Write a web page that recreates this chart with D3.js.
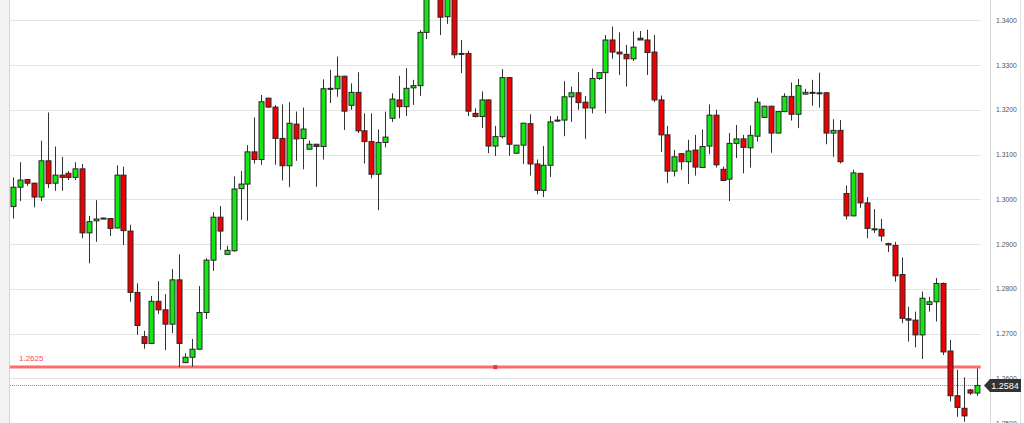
<!DOCTYPE html>
<html><head><meta charset="utf-8">
<script src="https://cdn.jsdelivr.net/npm/d3@7"></script>
<style>html,body{margin:0;padding:0;background:#fff;overflow:hidden}</style>
</head><body>
<svg id="c" width="1024" height="423"></svg>
<script>
// ---- data (OHLC per candle) ----
const opens = [1.2984,1.3027,1.3044,1.3036,1.3005,1.3086,1.3036,1.3054,1.3058,1.3049,
1.3068,1.2925,1.2952,1.2958,1.2957,1.2936,1.3054,1.2929,1.2792,1.2693,
1.2678,1.2772,1.2753,1.2721,1.2820,1.2635,1.2647,1.2665,1.2747,1.2864,
1.2960,1.2877,1.2885,1.3024,1.3034,1.3106,1.3089,1.3226,1.3206,1.3136,
1.3075,1.3168,1.3136,1.3112,1.3123,1.3118,1.3247,1.3247,1.3275,1.3210,
1.3239,1.3153,1.3129,1.3056,1.3127,1.3181,1.3222,1.3207,1.3249,1.3254,
1.3373,1.3458,1.3478,1.3408,1.3448,1.3326,1.3326,1.3192,1.3185,1.3222,
1.3119,1.3140,1.3272,1.3103,1.3121,1.3169,1.3079,1.3020,1.3076,1.3177,
1.3177,1.3229,1.3238,1.3217,1.3204,1.3270,1.3283,1.3356,1.3329,1.3324,
1.3314,1.3360,1.3356,1.3329,1.3222,1.3144,1.3063,1.3102,1.3084,1.3110,
1.3071,1.3119,1.3188,1.3067,1.3045,1.3125,1.3135,1.3115,1.3141,1.3183,
1.3208,1.3148,1.3196,1.3230,1.3190,1.3235,1.3239,1.3238,1.3238,1.3148,
1.3154,1.3013,1.2963,1.3058,1.2992,1.2934,1.2933,1.2901,1.2897,1.2832,
1.2733,1.2730,1.2697,1.2765,1.2771,1.2812,1.2661,1.2561,1.2533,1.2574,
1.2567];
const highs = [1.3049,1.3083,1.3045,1.3037,1.3131,1.3194,1.3118,1.3095,1.3063,1.3083,
1.3079,1.2963,1.2998,1.2959,1.2958,1.3076,1.3073,1.2943,1.2812,1.2706,
1.2784,1.2817,1.2788,1.2844,1.2877,1.2656,1.2688,1.2806,1.2868,1.2971,
1.2985,1.2896,1.3051,1.3063,1.3121,1.3183,1.3233,1.3227,1.3211,1.3212,
1.3217,1.3196,1.3205,1.3131,1.3124,1.3268,1.3289,1.3319,1.3276,1.3259,
1.3284,1.3192,1.3192,1.3156,1.3196,1.3237,1.3276,1.3293,1.3267,1.3378,
1.3462,1.3492,1.3495,1.3462,1.3460,1.3356,1.3332,1.3203,1.3241,1.3223,
1.3164,1.3291,1.3273,1.3104,1.3171,1.3190,1.3089,1.3119,1.3186,1.3186,
1.3264,1.3252,1.3284,1.3231,1.3292,1.3284,1.3367,1.3386,1.3373,1.3345,
1.3375,1.3376,1.3379,1.3367,1.3232,1.3164,1.3110,1.3103,1.3133,1.3144,
1.3156,1.3212,1.3200,1.3073,1.3148,1.3166,1.3144,1.3165,1.3227,1.3209,
1.3209,1.3197,1.3237,1.3261,1.3269,1.3247,1.3267,1.3283,1.3240,1.3179,
1.3177,1.3031,1.3066,1.3059,1.3005,1.2978,1.2956,1.2903,1.2905,1.2870,
1.2760,1.2749,1.2794,1.2782,1.2824,1.2814,1.2686,1.2619,1.2602,1.2576,
1.2622];
const lows = [1.2957,1.2996,1.3030,1.2982,1.2996,1.3025,1.3019,1.3019,1.3043,1.3043,
1.2913,1.2857,1.2905,1.2957,1.2918,1.2935,1.2898,1.2771,1.2697,1.2666,
1.2677,1.2744,1.2663,1.2701,1.2625,1.2634,1.2626,1.2664,1.2733,1.2840,
1.2887,1.2876,1.2883,1.2954,1.2952,1.3080,1.3077,1.3205,1.3077,1.3042,
1.3027,1.3086,1.3067,1.3111,1.3028,1.3089,1.3215,1.3229,1.3155,1.3200,
1.3148,1.3080,1.3047,1.2976,1.3116,1.3173,1.3181,1.3186,1.3211,1.3231,
1.3358,1.3450,1.3367,1.3392,1.3315,1.3282,1.3186,1.3183,1.3159,1.3103,
1.3097,1.3136,1.3097,1.3102,1.3079,1.3053,1.3011,1.3005,1.3050,1.3173,
1.3141,1.3173,1.3200,1.3135,1.3192,1.3267,1.3192,1.3314,1.3278,1.3252,
1.3309,1.3356,1.3278,1.3217,1.3106,1.3036,1.3051,1.3066,1.3034,1.3053,
1.3070,1.3101,1.3071,1.3041,1.2996,1.3092,1.3058,1.3071,1.3129,1.3182,
1.3104,1.3147,1.3195,1.3176,1.3159,1.3234,1.3209,1.3205,1.3123,1.3095,
1.3080,1.2955,1.2962,1.2981,1.2913,1.2925,1.2906,1.2882,1.2816,1.2723,
1.2682,1.2669,1.2643,1.2749,1.2727,1.2652,1.2548,1.2514,1.2503,1.2563,
1.2561];
const closes = [1.3027,1.3043,1.3036,1.3005,1.3086,1.3035,1.3054,1.3049,1.3049,1.3068,
1.2925,1.2950,1.2956,1.2958,1.2935,1.3054,1.2930,1.2792,1.2718,1.2678,
1.2772,1.2753,1.2721,1.2820,1.2678,1.2647,1.2665,1.2747,1.2864,1.2960,
1.2929,1.2886,1.3023,1.3034,1.3106,1.3089,1.3218,1.3206,1.3136,1.3075,
1.3170,1.3135,1.3157,1.3123,1.3118,1.3247,1.3248,1.3275,1.3197,1.3239,
1.3153,1.3129,1.3056,1.3127,1.3139,1.3224,1.3207,1.3248,1.3254,1.3373,
1.3452,1.3480,1.3407,1.3450,1.3323,1.3326,1.3197,1.3185,1.3222,1.3119,
1.3140,1.3272,1.3123,1.3121,1.3170,1.3079,1.3020,1.3076,1.3173,1.3177,
1.3229,1.3238,1.3216,1.3204,1.3270,1.3283,1.3356,1.3329,1.3325,1.3314,
1.3340,1.3356,1.3328,1.3222,1.3144,1.3063,1.3095,1.3084,1.3108,1.3072,
1.3118,1.3188,1.3077,1.3042,1.3125,1.3135,1.3116,1.3143,1.3217,1.3208,
1.3148,1.3196,1.3230,1.3190,1.3254,1.3239,1.3239,1.3237,1.3148,1.3154,
1.3084,1.2963,1.3059,1.2992,1.2935,1.2934,1.2918,1.2898,1.2829,1.2734,
1.2730,1.2697,1.2779,1.2771,1.2812,1.2659,1.2561,1.2535,1.2516,1.2567,
1.2584];
const tickValues = [1.25,1.26,1.27,1.28,1.29,1.30,1.31,1.32,1.33,1.34];
const levelPrice = 1.2625;
const lastPrice = 1.2584;

// ---- layout ----
const svg = d3.select('#c');
const plotL = 9.86, plotR = 980.74, plotT = 0, plotB = 423;
const x = d3.scaleBand().domain(d3.range(opens.length)).range([plotL, plotR]);
const y = d3.scaleLinear().domain([1.25, 1.34]).range([423.05, 20.3]);
const fmt = d3.format('.4f');
const font = "'Liberation Sans', Arial, sans-serif";

// left strip and borders
svg.append('rect').attr('x',0).attr('y',0).attr('width',9).attr('height',423).attr('fill','#f3f3f3');
svg.append('line').attr('x1',9.5).attr('x2',9.5).attr('y1',0).attr('y2',423).attr('stroke','#d4d4d4');
svg.append('line').attr('x1',990.5).attr('x2',990.5).attr('y1',0).attr('y2',423).attr('stroke','#d8d8d8');
svg.append('line').attr('x1',1020.5).attr('x2',1020.5).attr('y1',0).attr('y2',423).attr('stroke','#e2e2e2');

// grid
svg.append('g').selectAll('line').data(tickValues).join('line')
  .attr('x1', plotL).attr('x2', plotR)
  .attr('y1', d => Math.round(y(d)) + 0.5).attr('y2', d => Math.round(y(d)) + 0.5)
  .attr('stroke', '#e4e4e4').attr('stroke-width', 1.2);

// right axis
const ax = svg.append('g').attr('transform', 'translate(990,0)')
  .call(d3.axisRight(y).tickValues(tickValues).tickSize(0).tickPadding(6).tickFormat(fmt));
ax.select('.domain').remove();
ax.selectAll('text').attr('font-family', font).attr('font-size', 6.8).attr('fill', '#555');

// clip
svg.append('clipPath').attr('id','clip').append('rect')
  .attr('x', plotL).attr('y', plotT).attr('width', plotR - plotL).attr('height', plotB - plotT);

// level line
const ly = y(levelPrice);
svg.append('line').attr('x1', plotL).attr('x2', plotR).attr('y1', ly).attr('y2', ly)
  .attr('stroke', '#ff5c5c').attr('stroke-width', 3).attr('opacity', 0.9);
svg.append('rect').attr('x', (plotL+plotR)/2 - 2).attr('y', ly - 2).attr('width', 4).attr('height', 4).attr('fill', '#e83a3a');
svg.append('text').attr('x', 19).attr('y', ly - 6).text(fmt(levelPrice))
  .attr('font-family', font).attr('font-size', 8).attr('fill', '#ff4a4a');

// last price dotted line
const lpy = Math.round(y(lastPrice)) + 0.5;
svg.append('line').attr('x1', plotL).attr('x2', plotR).attr('y1', lpy).attr('y2', lpy)
  .attr('stroke', '#8a8a8a').attr('stroke-width', 1).attr('stroke-dasharray', '1,1');

// candles
const data = opens.map((o, i) => ({i, o, h: highs[i], l: lows[i], c: closes[i]}));
const g = svg.append('g').attr('clip-path', 'url(#clip)');
const cx = i => Math.round(x(i) + x.bandwidth() / 2);
g.selectAll('line.w').data(data).join('line').attr('class','w')
  .attr('x1', d => cx(d.i) + 0.5).attr('x2', d => cx(d.i) + 0.5)
  .attr('y1', d => y(d.h)).attr('y2', d => y(d.l))
  .attr('stroke', '#333').attr('stroke-width', 1);
g.selectAll('rect.b').data(data).join('rect').attr('class','b')
  .attr('x', d => cx(d.i) - 2)
  .attr('y', d => Math.min(y(d.o), y(d.c)))
  .attr('width', 5)
  .attr('height', d => Math.max(1, Math.abs(y(d.o) - y(d.c))))
  .attr('fill', d => d.c >= d.o ? '#12e812' : '#f00000')
  .attr('stroke', '#262626').attr('stroke-width', 1);

// last price tag
const ty = y(lastPrice);
svg.append('path')
  .attr('d', `M984,${ty} L990,${ty-6.5} L1021,${ty-6.5} L1021,${ty+6.5} L990,${ty+6.5} Z`)
  .attr('fill', '#333');
svg.append('text').attr('x', 1005).attr('y', ty + 3.2).attr('text-anchor','middle')
  .text(fmt(lastPrice)).attr('font-family', font).attr('font-size', 9).attr('fill', '#fff');
</script>
</body></html>
